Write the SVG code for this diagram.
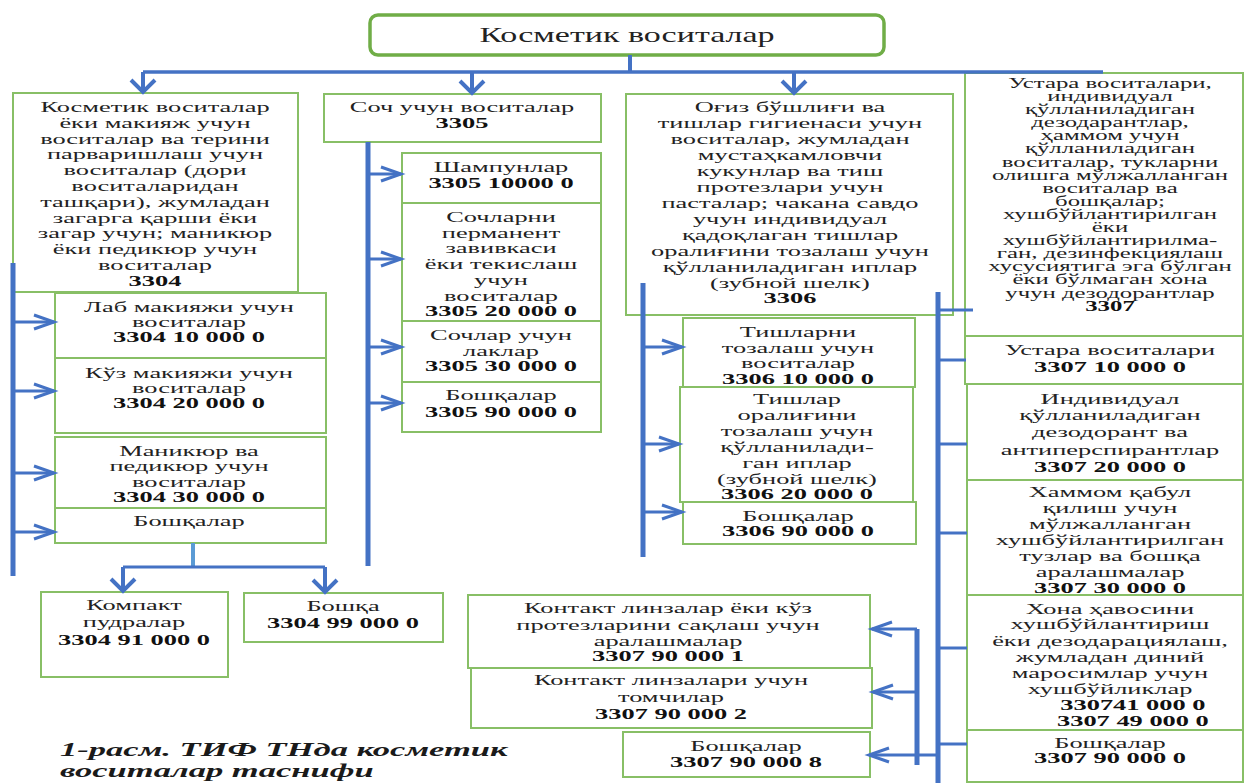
<svg xmlns="http://www.w3.org/2000/svg" width="1244" height="783" viewBox="0 0 1244 783">
<style>
.b{fill:#fff;stroke:#88BF66;stroke-width:2}
.t{font-family:"Liberation Serif","Times New Roman",serif;font-size:15px;fill:#222;text-anchor:middle}
.s{font-size:14px}
.c{font-weight:bold;fill:#111}
.w{stroke:#4472C4;fill:none;stroke-width:3}
.k{stroke-width:5}
.cap{font-family:"Liberation Serif","Times New Roman",serif;font-size:19px;font-weight:bold;font-style:italic;fill:#1a1a1a}
</style>
<defs>
<marker id="ah" markerUnits="userSpaceOnUse" markerWidth="30" markerHeight="30" orient="auto" overflow="visible"><path d="M-20,-7 L0,0 L-20,7" fill="none" stroke="#4472C4" stroke-width="3"/></marker>
<marker id="dn" markerUnits="userSpaceOnUse" markerWidth="30" markerHeight="30" orient="auto" overflow="visible"><path d="M-12,-12 L0,0 L-12,12" fill="none" stroke="#4472C4" stroke-width="4"/></marker>
</defs>
<rect width="1244" height="783" fill="#fff"/>

<g id="n_root"><rect x="370" y="15" width="514" height="40" rx="8" fill="#fff" stroke="#70AD47" stroke-width="3.5"/><text class="t" style="font-size:21px" transform="translate(627,0) scale(1.62,1)"><tspan x="0" y="42">Косметик воситалар</tspan></text></g>

<g id="n3304"><rect class="b" x="13" y="93" width="285" height="199"/><text class="t" transform="translate(155,0) scale(1.76,1)"><tspan x="0" y="112">Косметик воситалар</tspan><tspan x="0" y="127.8">ёки макияж учун</tspan><tspan x="0" y="143.6">воситалар ва терини</tspan><tspan x="0" y="159.4">парваришлаш учун</tspan><tspan x="0" y="175.2">воситалар (дори</tspan><tspan x="0" y="191">воситаларидан</tspan><tspan x="0" y="206.8">ташқари), жумладан</tspan><tspan x="0" y="222.6">загарга қарши ёки</tspan><tspan x="0" y="238.4">загар учун; маникюр</tspan><tspan x="0" y="254.2">ёки педикюр учун</tspan><tspan x="0" y="270">воситалар</tspan><tspan class="c" x="0" y="286">3304</tspan></text></g>
<g id="n3304_10"><rect class="b" x="55" y="293" width="271" height="65"/><text class="t" transform="translate(189,0) scale(1.76,1)"><tspan x="0" y="312">Лаб макияжи учун</tspan><tspan x="0" y="327">воситалар</tspan><tspan class="c" x="0" y="342">3304 10 000 0</tspan></text></g>
<g id="n3304_20"><rect class="b" x="55" y="358" width="271" height="75"/><text class="t" transform="translate(189,0) scale(1.76,1)"><tspan x="0" y="378">Кўз макияжи учун</tspan><tspan x="0" y="393">воситалар</tspan><tspan class="c" x="0" y="408">3304 20 000 0</tspan></text></g>
<g id="n3304_30"><rect class="b" x="55" y="437" width="271" height="71"/><text class="t" transform="translate(189,0) scale(1.76,1)"><tspan x="0" y="456">Маникюр ва</tspan><tspan x="0" y="471">педикюр учун</tspan><tspan x="0" y="487">воситалар</tspan><tspan class="c" x="0" y="502">3304 30 000 0</tspan></text></g>
<g id="n3304_other"><rect class="b" x="55" y="508" width="271" height="35"/><text class="t" transform="translate(189,0) scale(1.76,1)"><tspan x="0" y="526">Бошқалар</tspan></text></g>
<g id="n3304_91"><rect class="b" x="41" y="592" width="187" height="85"/><text class="t" transform="translate(134,0) scale(1.76,1)"><tspan x="0" y="610">Компакт</tspan><tspan x="0" y="627">пудралар</tspan><tspan class="c" x="0" y="645">3304 91 000 0</tspan></text></g>
<g id="n3304_99"><rect class="b" x="244" y="593" width="199" height="49"/><text class="t" transform="translate(343,0) scale(1.76,1)"><tspan x="0" y="611">Бошқа</tspan><tspan class="c" x="0" y="628">3304 99 000 0</tspan></text></g>

<g id="n3305"><rect class="b" x="324" y="94" width="277" height="48"/><text class="t" transform="translate(462,0) scale(1.76,1)"><tspan x="0" y="112">Соч учун воситалар</tspan><tspan class="c" x="0" y="128">3305</tspan></text></g>
<g id="n3305_10"><rect class="b" x="402" y="153" width="199" height="50"/><text class="t" transform="translate(501,0) scale(1.76,1)"><tspan x="0" y="172">Шампунлар</tspan><tspan class="c" x="0" y="188">3305 10000 0</tspan></text></g>
<g id="n3305_20"><rect class="b" x="402" y="203" width="199" height="118"/><text class="t" transform="translate(501,0) scale(1.76,1)"><tspan x="0" y="222">Сочларни</tspan><tspan x="0" y="238">перманент</tspan><tspan x="0" y="253">завивкаси</tspan><tspan x="0" y="269">ёки текислаш</tspan><tspan x="0" y="285">учун</tspan><tspan x="0" y="301">воситалар</tspan><tspan class="c" x="0" y="316">3305 20 000 0</tspan></text></g>
<g id="n3305_30"><rect class="b" x="402" y="321" width="199" height="61"/><text class="t" transform="translate(501,0) scale(1.76,1)"><tspan x="0" y="340">Сочлар учун</tspan><tspan x="0" y="356">лаклар</tspan><tspan class="c" x="0" y="371">3305 30 000 0</tspan></text></g>
<g id="n3305_90"><rect class="b" x="402" y="382" width="199" height="50"/><text class="t" transform="translate(501,0) scale(1.76,1)"><tspan x="0" y="400">Бошқалар</tspan><tspan class="c" x="0" y="417">3305 90 000 0</tspan></text></g>

<g id="n3306"><rect class="b" x="626" y="94" width="327" height="221"/><text class="t" transform="translate(790,0) scale(1.76,1)"><tspan x="0" y="112">Оғиз бўшлиғи ва</tspan><tspan x="0" y="128">тишлар гигиенаси учун</tspan><tspan x="0" y="144">воситалар, жумладан</tspan><tspan x="0" y="160">мустаҳкамловчи</tspan><tspan x="0" y="176">кукунлар ва тиш</tspan><tspan x="0" y="192">протезлари учун</tspan><tspan x="0" y="208">пасталар; чакана савдо</tspan><tspan x="0" y="224">учун индивидуал</tspan><tspan x="0" y="240">қадоқлаган тишлар</tspan><tspan x="0" y="256">оралиғини тозалаш учун</tspan><tspan x="0" y="272">қўлланиладиган иплар</tspan><tspan x="0" y="288">(зубной шелк)</tspan><tspan class="c" x="0" y="303">3306</tspan></text></g>
<g id="n3306_10"><rect class="b" x="683" y="318" width="232" height="69"/><text class="t" transform="translate(798,0) scale(1.76,1)"><tspan x="0" y="337">Тишларни</tspan><tspan x="0" y="353">тозалаш учун</tspan><tspan x="0" y="368">воситалар</tspan><tspan class="c" x="0" y="384">3306 10 000 0</tspan></text></g>
<g id="n3306_20"><rect class="b" x="680" y="387" width="233" height="115"/><text class="t" transform="translate(797,0) scale(1.76,1)"><tspan x="0" y="404">Тишлар</tspan><tspan x="0" y="420">оралиғини</tspan><tspan x="0" y="436">тозалаш учун</tspan><tspan x="0" y="452">қўлланилади-</tspan><tspan x="0" y="468">ган иплар</tspan><tspan x="0" y="484">(зубной шелк)</tspan><tspan class="c" x="0" y="499">3306 20 000 0</tspan></text></g>
<g id="n3306_90"><rect class="b" x="683" y="502" width="233" height="42"/><text class="t" transform="translate(798,0) scale(1.76,1)"><tspan x="0" y="521">Бошқалар</tspan><tspan class="c" x="0" y="536">3306 90 000 0</tspan></text></g>

<g id="n3307"><rect class="b" x="965" y="73" width="278" height="264"/><text class="t s" transform="translate(1110,0) scale(1.77,1)"><tspan x="0" y="88">Устара воситалари,</tspan><tspan x="0" y="101.1">индивидуал</tspan><tspan x="0" y="114.2">қўлланиладиган</tspan><tspan x="0" y="127.3">дезодарантлар,</tspan><tspan x="0" y="140.4">ҳаммом учун</tspan><tspan x="0" y="153.5">қўлланиладиган</tspan><tspan x="0" y="166.6">воситалар, тукларни</tspan><tspan x="0" y="179.7">олишга мўлжалланган</tspan><tspan x="0" y="192.8">воситалар ва</tspan><tspan x="0" y="205.9">бошқалар;</tspan><tspan x="0" y="219">хушбўйлантирилган</tspan><tspan x="0" y="232.1">ёки</tspan><tspan x="0" y="245.2">хушбўйлантирилма-</tspan><tspan x="0" y="258.3">ган, дезинфекциялаш</tspan><tspan x="0" y="271.4">хусусиятига эга бўлган</tspan><tspan x="0" y="284.5">ёки бўлмаган хона</tspan><tspan x="0" y="297.6">учун дезодорантлар</tspan><tspan class="c" x="0" y="311">3307</tspan></text></g>
<g id="n3307_10"><rect class="b" x="965" y="336" width="278" height="48"/><text class="t" transform="translate(1110,0) scale(1.76,1)"><tspan x="0" y="355">Устара воситалари</tspan><tspan class="c" x="0" y="372">3307 10 000 0</tspan></text></g>
<g id="n3307_20"><rect class="b" x="967" y="384" width="276" height="96"/><text class="t" transform="translate(1110,0) scale(1.76,1)"><tspan x="0" y="404">Индивидуал</tspan><tspan x="0" y="420">қўлланиладиган</tspan><tspan x="0" y="437">дезодорант ва</tspan><tspan x="0" y="455">антиперспирантлар</tspan><tspan class="c" x="0" y="472">3307 20 000 0</tspan></text></g>
<g id="n3307_30"><rect class="b" x="967" y="480" width="276" height="115"/><text class="t" transform="translate(1110,0) scale(1.76,1)"><tspan x="0" y="497">Хаммом қабул</tspan><tspan x="0" y="513">қилиш учун</tspan><tspan x="0" y="529">мўлжалланган</tspan><tspan x="0" y="545">хушбўйлантирилган</tspan><tspan x="0" y="561">тузлар ва бошқа</tspan><tspan x="0" y="577">аралашмалар</tspan><tspan class="c" x="0" y="593">3307 30 000  0</tspan></text></g>
<g id="n3307_4x"><rect class="b" x="967" y="595" width="276" height="135"/><text class="t" transform="translate(1110,0) scale(1.76,1)"><tspan x="0" y="614">Хона ҳавосини</tspan><tspan x="0" y="629">хушбўйлантириш</tspan><tspan x="0" y="646">ёки дезодарациялаш,</tspan><tspan x="0" y="662">жумладан диний</tspan><tspan x="0" y="678">маросимлар учун</tspan><tspan x="0" y="694">хушбўйликлар</tspan><tspan class="c" x="13" y="710">330741 000 0</tspan><tspan class="c" x="13" y="726">3307 49 000 0</tspan></text></g>
<g id="n3307_90"><rect class="b" x="967" y="730" width="276" height="52"/><text class="t" transform="translate(1110,0) scale(1.76,1)"><tspan x="0" y="748">Бошқалар</tspan><tspan class="c" x="0" y="763">3307 90 000 0</tspan></text></g>
<g id="n3307_901"><rect class="b" x="468" y="595" width="402" height="73"/><text class="t" transform="translate(668,0) scale(1.76,1)"><tspan x="0" y="613">Контакт линзалар ёки кўз</tspan><tspan x="0" y="630">протезларини сақлаш учун</tspan><tspan x="0" y="646">аралашмалар</tspan><tspan class="c" x="0" y="661">3307 90 000 1</tspan></text></g>
<g id="n3307_902"><rect class="b" x="471" y="668" width="401" height="60"/><text class="t" transform="translate(671,0) scale(1.76,1)"><tspan x="0" y="685">Контакт линзалари учун</tspan><tspan x="0" y="702">томчилар</tspan><tspan class="c" x="0" y="719">3307 90 000 2</tspan></text></g>
<g id="n3307_908"><rect class="b" x="623" y="732" width="247" height="45"/><text class="t" transform="translate(746,0) scale(1.76,1)"><tspan x="0" y="751">Бошқалар</tspan><tspan class="c" x="0" y="767">3307 90 000 8</tspan></text></g>

<g id="connectors">
<path class="w" style="stroke-width:4" d="M630,55 V72"/>
<path class="w" style="stroke-width:3.5" d="M143,72 H1103"/>
<path class="w" style="stroke-width:4" d="M143,72 V92" marker-end="url(#dn)"/>
<path class="w" style="stroke-width:4" d="M472,72 V93" marker-end="url(#dn)"/>
<path class="w" style="stroke-width:4" d="M794,72 V93" marker-end="url(#dn)"/>
<path class="w k" d="M13,263 V576"/>
<path class="w" d="M13,322 H54" marker-end="url(#ah)"/>
<path class="w" d="M13,391 H54" marker-end="url(#ah)"/>
<path class="w" d="M13,473 H54" marker-end="url(#ah)"/>
<path class="w" d="M13,532 H54" marker-end="url(#ah)"/>
<path class="w" style="stroke:#5B9BD5;stroke-width:4" d="M193,543 V567"/>
<path class="w" d="M123,567 H325"/>
<path class="w" style="stroke-width:4" d="M123,567 V591" marker-end="url(#dn)"/>
<path class="w" style="stroke-width:4" d="M325,567 V592" marker-end="url(#dn)"/>
<path class="w k" d="M368,142 V566"/>
<path class="w" d="M368,174 H401" marker-end="url(#ah)"/>
<path class="w" d="M368,259 H401" marker-end="url(#ah)"/>
<path class="w" d="M368,347 H401" marker-end="url(#ah)"/>
<path class="w" d="M368,403 H401" marker-end="url(#ah)"/>
<path class="w k" d="M643,283 V557"/>
<path class="w" d="M643,347 H682" marker-end="url(#ah)"/>
<path class="w" d="M643,444 H679" marker-end="url(#ah)"/>
<path class="w" d="M643,512 H682" marker-end="url(#ah)"/>
<path class="w k" d="M938,292 V783"/>
<path class="w" d="M938,310 H973"/>
<path class="w" d="M938,360 H966"/>
<path class="w" d="M938,444 H967"/>
<path class="w" d="M938,533 H967"/>
<path class="w" d="M938,648 H967"/>
<path class="w" d="M938,744 H967"/>
<path class="w k" d="M917,629 V765"/>
<path class="w" d="M917,629 H872" marker-end="url(#ah)"/>
<path class="w" d="M917,692 H873" marker-end="url(#ah)"/>
<path class="w" d="M938,755 H869" marker-end="url(#ah)"/>
</g>

<text class="cap" transform="translate(60,0) scale(1.82,1)"><tspan x="0" y="756">1-расм. ТИФ ТНда косметик</tspan><tspan x="0" y="777">воситалар таснифи</tspan></text>
</svg>
